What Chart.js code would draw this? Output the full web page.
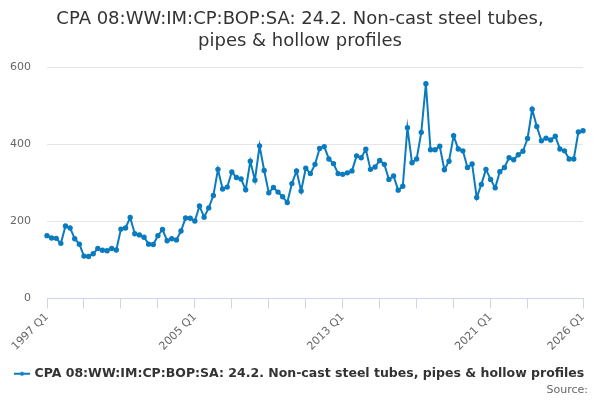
<!DOCTYPE html>
<html>
<head>
<meta charset="utf-8">
<script src="https://cdn.jsdelivr.net/npm/chart.js@4"></script>
<style>
  body { margin: 0; background: #fff; }
  #wrap { width: 600px; height: 400px; }
</style>
</head>
<body>
<div id="wrap"><canvas id="chart"></canvas></div>
<script>
const FIRST_YEAR = 1997;
const LAST_YEAR = 2026;
const tickLabels = ['1997 Q1', '2005 Q1', '2013 Q1', '2021 Q1', '2026 Q1'];
const seriesName = 'CPA 08:WW:IM:CP:BOP:SA: 24.2. Non-cast steel tubes, pipes & hollow profiles';

// quarterly categories, 1997 Q1 .. 2026 Q1
var quarters = [];
for (let y = FIRST_YEAR; y <= LAST_YEAR; y++) {
  for (let q = 1; q <= 4; q++) {
    if (y === LAST_YEAR && q > 1) break;
    quarters.push(y + ' Q' + q);
  }
}

const values = [
  163, 157, 156, 143, 188, 183, 155, 141, 110, 109, 116, 130, 125, 124, 130, 126,
  180, 183, 210, 168, 165, 159, 141, 140, 163, 179, 150, 155, 152, 175, 209, 208,
  201, 240, 211, 235, 267, 335, 284, 289, 328, 314, 310, 282, 356, 307, 396, 332,
  274, 288, 276, 264, 249, 298, 331, 279, 338, 324, 348, 389, 394, 362, 350, 324,
  322, 326, 331, 370, 365, 387, 335, 341, 358, 348, 309, 318, 281, 291, 443, 352,
  362, 431, 557, 386, 386, 395, 334, 356, 422, 388, 383, 340, 349, 262, 296, 335,
  309, 287, 329, 340, 365, 360, 373, 382, 415, 491, 446, 409, 416, 411, 421, 388,
  383, 362, 362, 432, 435
];

const BLUE = '#0b7bbf';
const lastIdx = quarters.length - 1;

// tick marks every 2 years, like the original
function hasTickMark(i) {
  return (i % 8 === 0 && i <= 104) || i === lastIdx;
}

// legend symbol: short line with a dot
var legendIcon = document.createElement('canvas');
legendIcon.width = 16;
legendIcon.height = 8;
var lc = legendIcon.getContext('2d');
lc.strokeStyle = BLUE;
lc.lineWidth = 2;
lc.beginPath();
lc.moveTo(0, 4);
lc.lineTo(16, 4);
lc.stroke();
lc.fillStyle = BLUE;
lc.beginPath();
lc.arc(8, 4, 2, 0, Math.PI * 2);
lc.fill();

// "Source:" footer, bottom right
const sourceText = {
  id: 'sourceText',
  afterDraw(chart) {
    var c = chart.ctx;
    c.save();
    c.font = '11px "DejaVu Sans"';
    c.fillStyle = '#666666';
    c.textAlign = 'right';
    c.textBaseline = 'middle';
    c.fillText('Source:', 588, 390);
    c.restore();
  }
};

var ctx = document.getElementById('chart').getContext('2d');

new Chart(ctx, {
  type: 'line',
  data: {
    labels: quarters,
    datasets: [{
      label: seriesName,
      data: values,
      borderColor: BLUE,
      backgroundColor: BLUE,
      borderWidth: 2,
      pointRadius: 1.7,
      pointHoverRadius: 3,
      pointStyle: 'circle',
      tension: 0,
      fill: false
    }]
  },
  plugins: [sourceText],
  options: {
    responsive: true,
    maintainAspectRatio: false,
    animation: false,
    layout: { padding: { left: 0, right: 0, top: 0, bottom: 10 } },
    font: { family: 'DejaVu Sans' },
    plugins: {
      title: {
        display: true,
        text: ['CPA 08:WW:IM:CP:BOP:SA: 24.2. Non-cast steel tubes,', 'pipes & hollow profiles'],
        color: '#333333',
        font: { family: 'DejaVu Sans', size: 18, weight: 'normal', lineHeight: 1.2 },
        padding: { top: 9, bottom: 15 }
      },
      legend: {
        position: 'bottom',
        labels: {
          usePointStyle: true,
          pointStyle: legendIcon,
          boxWidth: 16,
          color: '#333333',
          font: { family: 'DejaVu Sans', size: 12.5, weight: 'bold' },
          padding: 5
        }
      },
      tooltip: { enabled: false }
    },
    scales: {
      x: {
        offset: false,
        border: { display: true, color: '#ccd6eb', width: 1 },
        grid: {
          drawOnChartArea: false,
          drawTicks: true,
          tickLength: 10,
          color: function(c) { return hasTickMark(c.index) ? '#ccd6eb' : 'rgba(0,0,0,0)'; }
        },
        afterFit: function(scale) { scale.height = 64; },
        ticks: {
          autoSkip: false,
          minRotation: 45,
          maxRotation: 45,
          padding: 2,
          color: '#666666',
          font: { family: 'DejaVu Sans', size: 11 },
          callback: function(val, i) {
            var lab = quarters[i];
            return tickLabels.indexOf(lab) >= 0 ? lab : '';
          }
        }
      },
      y: {
        min: 0,
        max: 600,
        border: { display: false },
        grid: { color: '#e6e6e6', drawTicks: false },
        afterFit: function(scale) { scale.width = 47; },
        ticks: {
          stepSize: 200,
          padding: 16,
          color: '#666666',
          font: { family: 'DejaVu Sans', size: 11 }
        }
      },
      // empty right-hand gutter so the plot ends where the original does
      yGutter: {
        position: 'right',
        display: true,
        border: { display: false },
        grid: { display: false },
        ticks: { display: false },
        afterFit: function(scale) { scale.width = 17; }
      }
    }
  }
});
</script>
</body>
</html>
